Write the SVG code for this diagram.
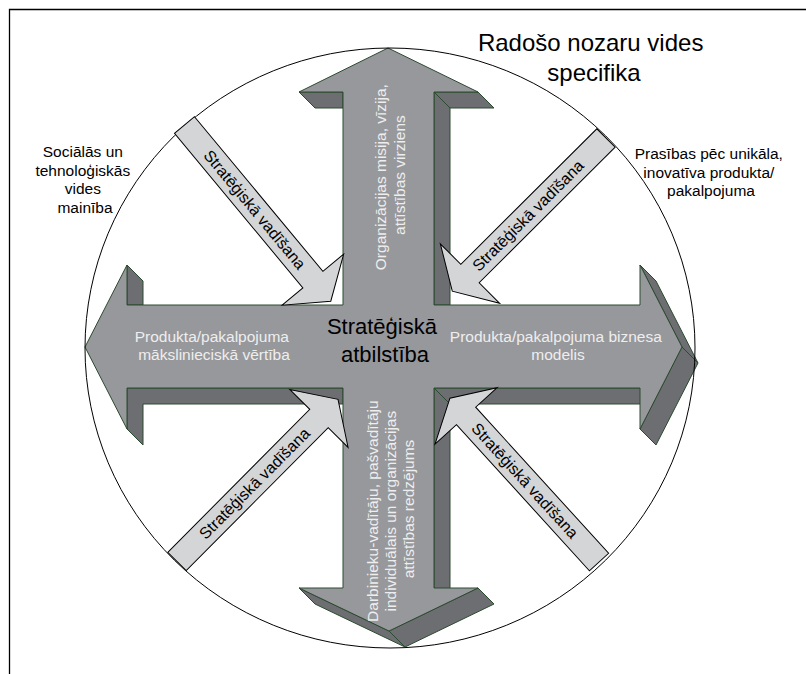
<svg xmlns="http://www.w3.org/2000/svg" width="806" height="674" viewBox="0 0 806 674">
  <style>
    .front { fill: #97989c; stroke: #2c4a30; stroke-width: 1; stroke-linejoin: miter; }
    .side { fill: #6d6e72; stroke: #2c4a30; stroke-width: 1; stroke-linejoin: miter; }
    .guide { fill: #d4d5d7; stroke: #000; stroke-width: 1; }
    .t { font-family: "Liberation Sans", Arial, sans-serif; }
    .dark { fill: #000; }
    .light { fill: #eeeeee; }
  </style>

  <!-- page frame -->
  <path d="M9.5,674 V9.5 H806" fill="none" stroke="#000" stroke-width="1.3"/>

  <!-- central 3D cross of four arrows -->
  <g id="cross">
    <!-- extruded side faces -->
    <polygon class="side" points="299,92 343,92 343,108 315,108"/>
    <polygon class="side" points="434,92 478,92 494,108 450,108"/>
    <polygon class="side" points="434,92 450,108 450,305 434,305"/>
    <polygon class="side" points="127,265 143,281 143,305 127,305"/>
    <polygon class="side" points="127,388 343,388 343,404 143,404 143,445 127,429"/>
    <polygon class="side" points="434,388 640,388 656,404 450,404"/>
    <polygon class="side" points="640,265 656,281 698,363 682,347"/>
    <polygon class="side" points="682,347 698,363 656,445 640,429"/>
    <polygon class="side" points="434,388 450,404 450,604 434,588"/>
    <polygon class="side" points="299,588 389,631 405,647 315,604"/>
    <polygon class="side" points="478,588 494,604 405,647 389,631"/>
    <!-- front face -->
    <polygon class="front" points="388,48 478,92 434,92 434,305 640,305 640,265 682,347 640,429 640,388 434,388 434,588 478,588 389,631 299,588 343,588 343,388 127,388 127,429 85,347 127,265 127,305 343,305 343,92 299,92"/>
  </g>

  <!-- environment boundary -->
  <ellipse id="boundary" cx="390" cy="348" rx="305" ry="300" fill="none" stroke="#000" stroke-width="1"/>

  <!-- arm labels -->
  <g id="arm-up">
    <text class="t light" font-size="15.5" text-anchor="middle" transform="translate(386,175) rotate(-90)">
      <tspan x="0" y="0">Organizācijas misija, vīzija,</tspan>
      <tspan x="0" y="18.5">attīstības virziens</tspan>
    </text>
  </g>
  <g id="arm-down">
    <text class="t light" font-size="15.5" text-anchor="middle" transform="translate(378,509) rotate(-90)">
      <tspan x="0" y="0">Darbinieku-vadītāju, pašvadītāju</tspan>
      <tspan x="0" y="18">individuālais un organizācijas</tspan>
      <tspan x="0" y="36">attīstības redzējums</tspan>
    </text>
  </g>
  <g id="arm-left">
    <text class="t light" font-size="15.5" text-anchor="middle">
      <tspan x="214" y="342">Produkta/pakalpojuma</tspan>
      <tspan x="214" y="360">mākslinieciskā vērtība</tspan>
    </text>
  </g>
  <g id="arm-right">
    <text class="t light" font-size="15.5" text-anchor="middle">
      <tspan x="558" y="342">Produkta/pakalpojuma biznesa</tspan>
      <tspan x="558" y="360">modelis</tspan>
    </text>
  </g>
  <g id="center">
    <text class="t dark" font-size="22" text-anchor="middle">
      <tspan x="385" y="334">Stratēģiskā</tspan>
      <tspan x="385" y="362">atbilstība</tspan>
    </text>
  </g>

  <!-- strategic management arrows -->
  <g id="guide-tl" transform="translate(184.5,125) rotate(50.3)">
    <polygon class="guide" points="0,-13 201,-13 201,-40 229,0 201,40 201,13 0,13"/>
    <text class="t dark" font-size="16" text-anchor="middle" x="110" y="5.5">Stratēģiskā vadīšana</text>
  </g>
  <g id="guide-tr" transform="translate(606,138) rotate(135.1)">
    <polygon class="guide" points="0,-13 192,-13 192,-42 217,0 192,42 192,13 0,13"/>
    <text class="t dark" font-size="16" text-anchor="middle" x="110" y="5.5" transform="rotate(180,110,0)">Stratēģiskā vadīšana</text>
  </g>
  <g id="guide-bl" transform="translate(177,561.5) rotate(-45.2)">
    <polygon class="guide" points="0,-13 201.5,-13 201.5,-41 228.5,0 201.5,41 201.5,13 0,13"/>
    <text class="t dark" font-size="16" text-anchor="middle" x="110" y="5.5">Stratēģiskā vadīšana</text>
  </g>
  <g id="guide-br" transform="translate(599,562) rotate(-132.3)">
    <polygon class="guide" points="0,-13 197.5,-13 197.5,-42 221.5,0 197.5,42 197.5,13 0,13"/>
    <text class="t dark" font-size="16" text-anchor="middle" x="110" y="5.5" transform="rotate(180,110,0)">Stratēģiskā vadīšana</text>
  </g>

  <!-- surrounding factors -->
  <g id="title">
    <text class="t dark" font-size="24" text-anchor="middle">
      <tspan x="594" y="51">Radošo nozaru vides</tspan>
      <tspan x="594" y="81">specifika</tspan>
    </text>
  </g>
  <g id="factor-left">
    <text class="t dark" font-size="15.5" text-anchor="middle">
      <tspan x="85" y="157">Sociālās un</tspan>
      <tspan x="85" y="175.5">tehnoloģiskās</tspan>
      <tspan x="85" y="194">vides</tspan>
      <tspan x="85" y="212.5">mainība</tspan>
    </text>
  </g>
  <g id="factor-right">
    <text class="t dark" font-size="15.5" text-anchor="middle">
      <tspan x="711" y="159">Prasības pēc unikāla,</tspan>
      <tspan x="711" y="177.5">inovatīva produkta/</tspan>
      <tspan x="711" y="196">pakalpojuma</tspan>
    </text>
  </g>
</svg>
